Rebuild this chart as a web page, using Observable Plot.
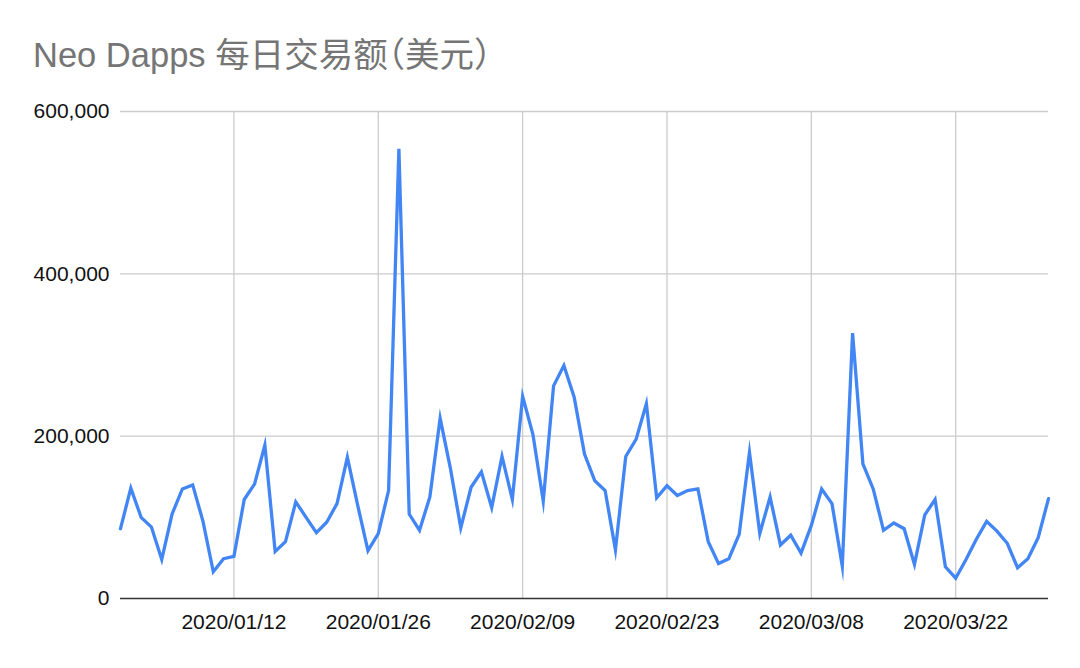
<!DOCTYPE html>
<html>
<head>
<meta charset="utf-8">
<script src="https://cdn.jsdelivr.net/npm/d3@7"></script>
<script src="https://cdn.jsdelivr.net/npm/@observablehq/plot@0.6"></script>
<style>
  html, body { margin: 0; padding: 0; background: #fff; }
  #wrap { position: relative; width: 1080px; height: 668px; overflow: hidden; }
  #title { height: 95px; position: relative; }
  #title span {
    position: absolute; left: 33px; top: 38px;
    font-family: "Liberation Sans", Arial, "Noto Sans CJK SC", sans-serif;
    font-size: 34.5px; line-height: 35px; color: #757575; white-space: nowrap;
    font-feature-settings: "halt" 1;
  }
  #chart svg { display: block; }
</style>
</head>
<body>
<div id="wrap">
  <div id="title"><span id="titleText"></span></div>
  <div id="chart"></div>
</div>
<script>
const titleText = "Neo Dapps 每日交易额（美元）";

const dates = [
  "2020-01-01","2020-01-02","2020-01-03","2020-01-04","2020-01-05","2020-01-06","2020-01-07","2020-01-08","2020-01-09","2020-01-10",
  "2020-01-11","2020-01-12","2020-01-13","2020-01-14","2020-01-15","2020-01-16","2020-01-17","2020-01-18","2020-01-19","2020-01-20",
  "2020-01-21","2020-01-22","2020-01-23","2020-01-24","2020-01-25","2020-01-26","2020-01-27","2020-01-28","2020-01-29","2020-01-30",
  "2020-01-31","2020-02-01","2020-02-02","2020-02-03","2020-02-04","2020-02-05","2020-02-06","2020-02-07","2020-02-08","2020-02-09",
  "2020-02-10","2020-02-11","2020-02-12","2020-02-13","2020-02-14","2020-02-15","2020-02-16","2020-02-17","2020-02-18","2020-02-19",
  "2020-02-20","2020-02-21","2020-02-22","2020-02-23","2020-02-24","2020-02-25","2020-02-26","2020-02-27","2020-02-28","2020-02-29",
  "2020-03-01","2020-03-02","2020-03-03","2020-03-04","2020-03-05","2020-03-06","2020-03-07","2020-03-08","2020-03-09","2020-03-10",
  "2020-03-11","2020-03-12","2020-03-13","2020-03-14","2020-03-15","2020-03-16","2020-03-17","2020-03-18","2020-03-19","2020-03-20",
  "2020-03-21","2020-03-22","2020-03-23","2020-03-24","2020-03-25","2020-03-26","2020-03-27","2020-03-28","2020-03-29","2020-03-30",
  "2020-03-31"
];

const values = [
  86000,136000,100000,88000,48000,104000,135000,140000,95000,33000,
  49000,52000,122000,141000,189000,58000,70000,119000,100000,81000,
  94000,117000,174000,115000,59000,80000,133000,554000,104000,84000,
  125000,222000,160000,87000,137000,156000,112000,175000,122000,249000,
  202000,120000,262000,287000,248000,178000,145000,133000,60000,175000,
  196000,240000,124000,139000,127000,133000,135000,70000,43000,49000,
  79000,180000,80000,125000,66000,78000,56000,90000,135000,117000,
  40000,327000,166000,135000,84000,93000,86000,42000,103000,122000,
  39000,25000,48000,73000,95000,83000,68000,38000,49000,75000,
  123000
];

const xTickLabels = ["2020-01-12","2020-01-26","2020-02-09","2020-02-23","2020-03-08","2020-03-22"];
const yTicks = [0, 200000, 400000, 600000];
const xDomain = ["2020-01-01", "2020-03-31"];
const yDomain = [0, 600000];

document.getElementById("titleText").textContent = titleText;

const parse = d3.utcParse("%Y-%m-%d");
const data = dates.map((d, i) => ({date: parse(d), value: values[i]}));
const xTicks = xTickLabels.map(parse);

const chart = Plot.plot({
  width: 1080,
  height: 573,
  marginTop: 16,
  marginBottom: 70,
  marginLeft: 120,
  marginRight: 32,
  style: {
    fontFamily: "'Liberation Sans', Arial, sans-serif",
    fontSize: "21px",
    color: "#111",
    background: "#fff",
    overflow: "visible"
  },
  x: {type: "utc", domain: xDomain.map(parse)},
  y: {domain: yDomain},
  marks: [
    Plot.gridY(yTicks.filter(d => d > 0), {stroke: "#cccccc", strokeOpacity: 1, strokeWidth: 1.3}),
    Plot.gridX(xTicks, {stroke: "#cccccc", strokeOpacity: 1, strokeWidth: 1.3}),
    Plot.line(data, {x: "date", y: "value", stroke: "#4285f4", strokeWidth: 3.3, strokeLinejoin: "miter", strokeMiterlimit: 10}),
    Plot.ruleY([0], {stroke: "#333", strokeWidth: 1.6}),
    Plot.axisY(yTicks, {tickSize: 0, tickPadding: 11, tickFormat: d3.format(","), label: null}),
    Plot.axisX(xTicks, {tickSize: 0, tickPadding: 16, tickFormat: d3.utcFormat("%Y/%m/%d"), label: null})
  ]
});
document.getElementById("chart").appendChild(chart);
</script>
</body>
</html>
